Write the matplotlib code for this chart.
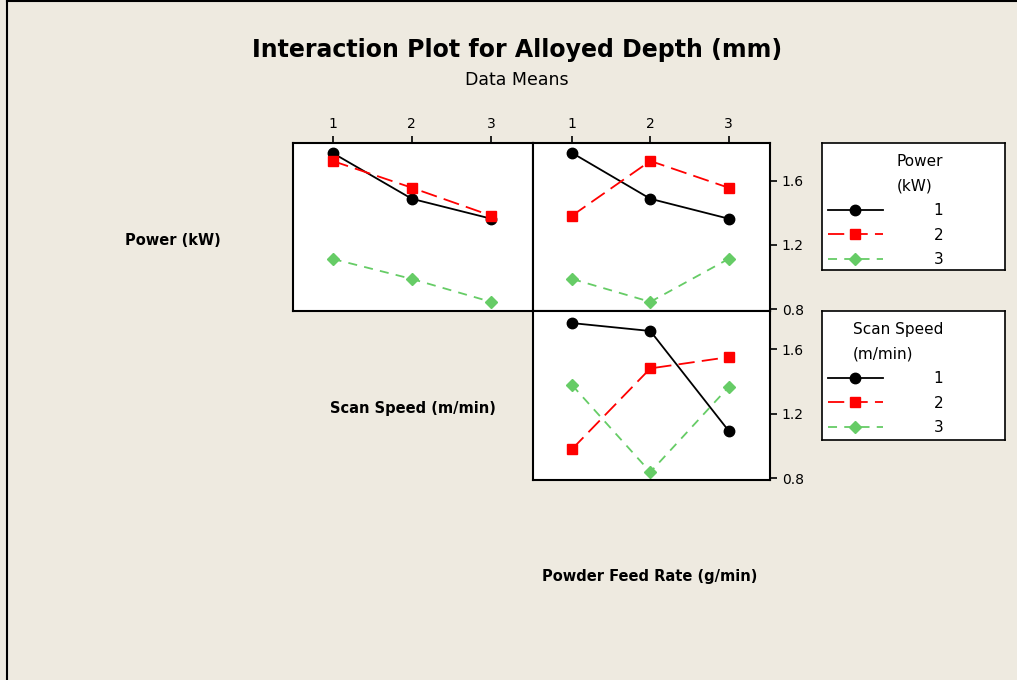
import matplotlib.pyplot as plt
from matplotlib.lines import Line2D

levels = [1, 2, 3]

# panel 1: x = Scan Speed, traces = Power
power_by_scan = {
    "1": [1.774, 1.488, 1.364],
    "2": [1.724, 1.557, 1.383],
    "3": [1.113, 0.988, 0.845],
}
# panel 2: x = Powder Feed Rate, traces = Power
power_by_feed = {
    "1": [1.774, 1.488, 1.364],
    "2": [1.383, 1.724, 1.557],
    "3": [0.988, 0.845, 1.113],
}
# panel 3: x = Powder Feed Rate, traces = Scan Speed
scan_by_feed = {
    "1": [1.761, 1.712, 1.094],
    "2": [0.980, 1.480, 1.550],
    "3": [1.376, 0.837, 1.364],
}
y_ticks = [0.8, 1.2, 1.6]

bg = "#EEEAE0"
styles = {
    "1": dict(color="black", linestyle="-", marker="o", markersize=7.5),
    "2": dict(color="#FF0000", linestyle=(0, (9, 4)), marker="s", markersize=6.5),
    "3": dict(color="#66CC66", linestyle=(0, (5, 4)), marker="D", markersize=6.5),
}

fig = plt.figure(figsize=(10.17, 6.8), dpi=100, facecolor=bg)

W, H = 1017, 680


def px_axes(x0, y0, x1, y1):
    return fig.add_axes([x0 / W, 1 - y1 / H, (x1 - x0) / W, (y1 - y0) / H])


ax1 = px_axes(293, 143, 533, 311)
ax2 = px_axes(533, 143, 770, 311)
ax3 = px_axes(533, 311, 770, 480)

for ax, data in [(ax1, power_by_scan), (ax2, power_by_feed), (ax3, scan_by_feed)]:
    for key, vals in data.items():
        ax.plot(levels, vals, linewidth=1.3, **styles[key])
    ax.set_xlim(0.5, 3.53)
    ax.set_ylim(0.788, 1.836)
    ax.set_facecolor("white")
    for s in ax.spines.values():
        s.set_linewidth(1.5)
    ax.tick_params(labelsize=10, width=1.2, length=5)

ax1.xaxis.tick_top()
ax1.set_xticks(levels)
ax1.set_yticks([])
ax2.xaxis.tick_top()
ax2.set_xticks(levels)
ax2.yaxis.tick_right()
ax2.set_yticks(y_ticks)
ax3.set_xticks([])
ax3.yaxis.tick_right()
ax3.set_yticks(y_ticks)

fig.text(0.508, 1 - 50 / H, "Interaction Plot for Alloyed Depth (mm)",
         ha="center", va="center", fontsize=17, fontweight="bold")
fig.text(0.508, 1 - 80 / H, "Data Means", ha="center", va="center", fontsize=12.5)

lab_kw = dict(ha="center", va="center", fontsize=10.5, fontweight="bold")
fig.text(173 / W, 1 - 240 / H, "Power (kW)", **lab_kw)
fig.text(413 / W, 1 - 408 / H, "Scan Speed (m/min)", **lab_kw)
fig.text(650 / W, 1 - 577 / H, "Powder Feed Rate (g/min)", **lab_kw)


def legend_box(y0, y1, title):
    lax = px_axes(822, y0, 1005, y1)
    lax.set_facecolor("white")
    lax.set_xticks([])
    lax.set_yticks([])
    for s in lax.spines.values():
        s.set_linewidth(1.2)
    handles = [Line2D([], [], linewidth=1.3, **styles[k]) for k in ["1", "2", "3"]]
    leg = lax.legend(handles, ["1", "2", "3"], title=title, loc="upper left",
                     bbox_to_anchor=(-0.03, 1.0), frameon=False, fontsize=11,
                     title_fontsize=11, handlelength=3.6, handletextpad=3.3,
                     labelspacing=0.62, borderaxespad=0.0, borderpad=0.75)
    leg.get_title().set_linespacing(1.75)
    leg._legend_box.sep = 7
    leg._legend_box.align = "right"
    return lax


legend_box(143, 270, "Power\n(kW)")
legend_box(311, 440, "Scan Speed\n(m/min)")

fig.add_artist(Line2D([7 / W, 7 / W], [0, 1], color="black", linewidth=1.5))
fig.add_artist(Line2D([7 / W, 1], [1 - 1 / H, 1 - 1 / H], color="black", linewidth=1.5))

fig.savefig("out.png", dpi=100, facecolor=bg)
